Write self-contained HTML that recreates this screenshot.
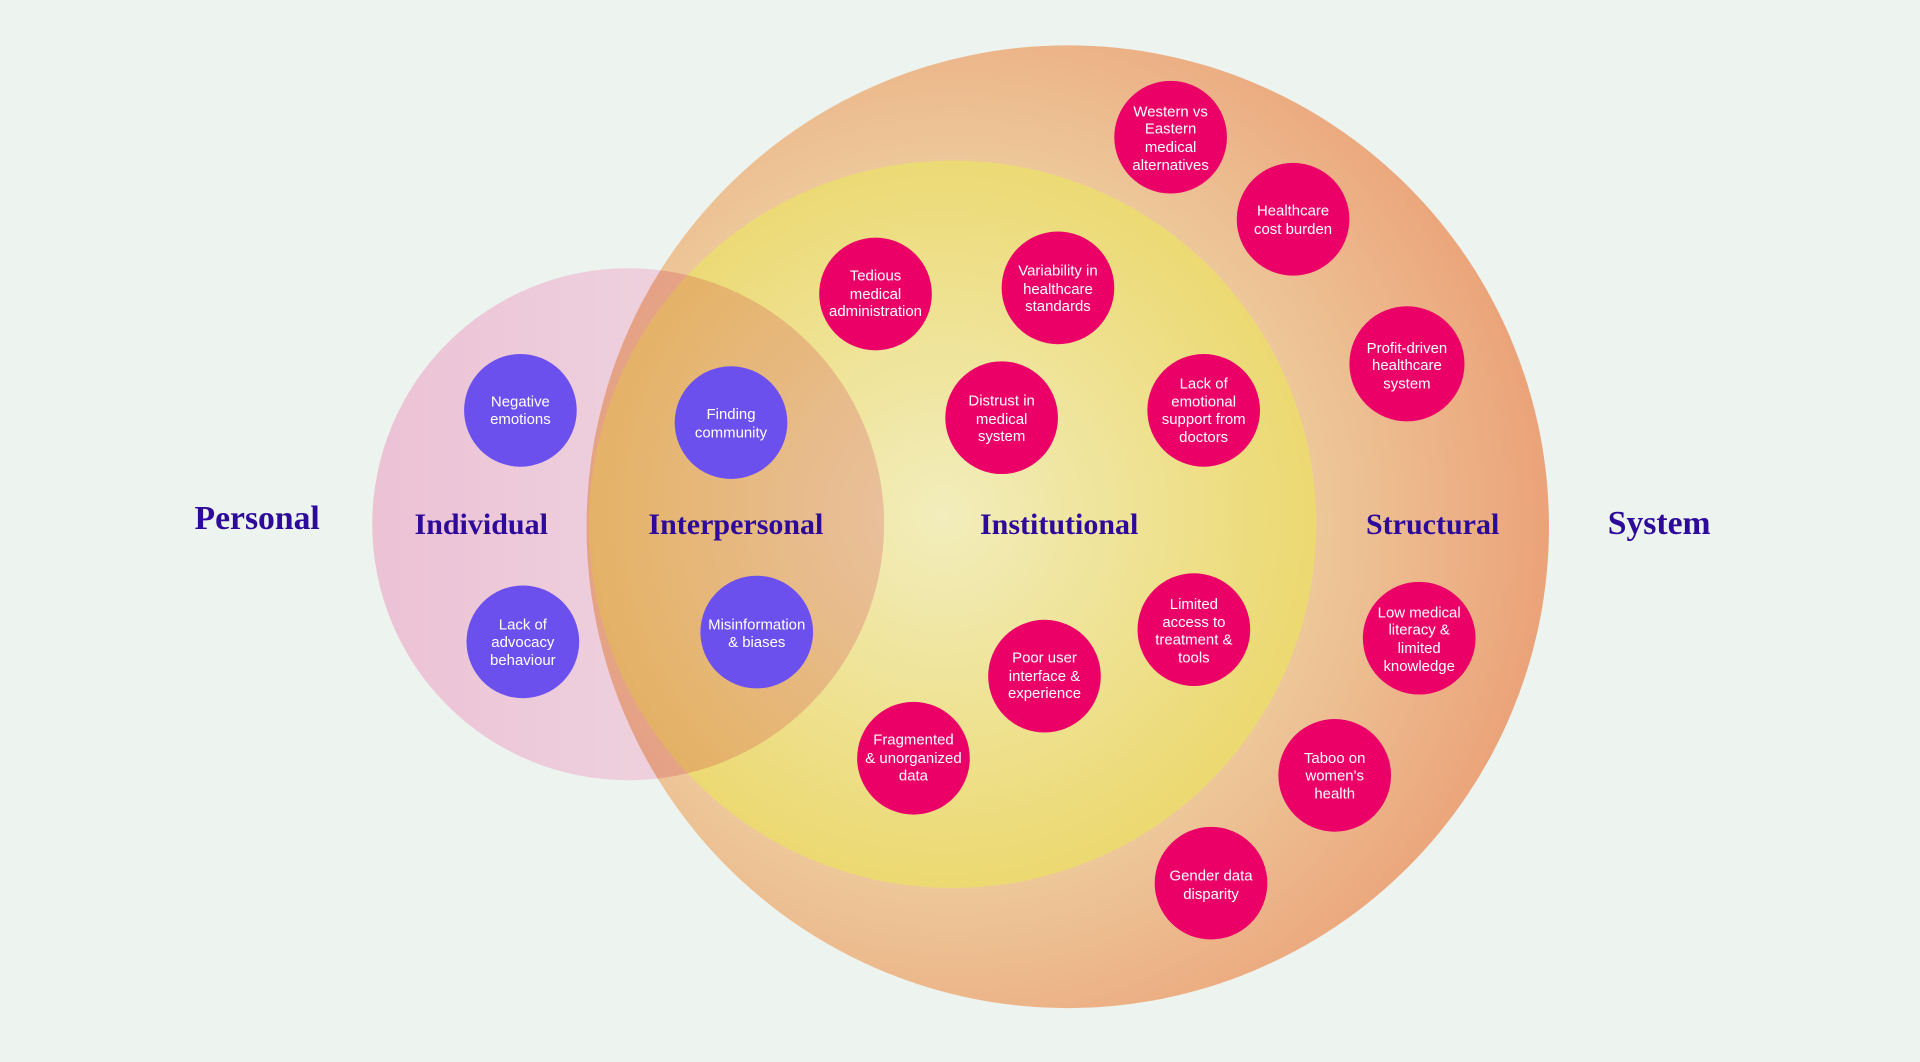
<!DOCTYPE html>
<html><head><meta charset="utf-8"><style>
html,body{margin:0;padding:0;background:#edf3ee;}
svg{display:block}
.b{font-family:"Liberation Sans",sans-serif;font-size:12.2px;fill:#fff;text-anchor:middle}
.t{font-family:"Liberation Serif",serif;font-weight:bold;font-size:24.5px;fill:#2e0a9a;text-anchor:middle}
.t2{font-size:27.5px}
</style></head><body>
<svg width="1920" height="1062" viewBox="0 0 1568 867" preserveAspectRatio="none">
<defs>
<radialGradient id="og" cx="778" cy="428" r="490" gradientUnits="userSpaceOnUse">
<stop offset="0.6" stop-color="#edc89a"/><stop offset="1" stop-color="#eba278"/></radialGradient>
<radialGradient id="yg" cx="770" cy="420" r="300" gradientUnits="userSpaceOnUse">
<stop offset="0" stop-color="#f2edbc"/><stop offset="1" stop-color="#ecd972"/></radialGradient>
<linearGradient id="pg" x1="0" x2="1" y1="0" y2="0">
<stop offset="0" stop-color="#ecc2d5"/><stop offset="1" stop-color="#efdce4"/></linearGradient>
<clipPath id="oc"><circle cx="872" cy="430" r="393"/></clipPath>
</defs>
<rect width="1568" height="867" fill="#edf3ee"/>
<circle cx="513" cy="428" r="209" fill="url(#pg)"/>
<circle cx="872" cy="430" r="393" fill="url(#og)"/>
<circle cx="778" cy="428" r="297" fill="url(#yg)"/>
<g clip-path="url(#oc)" style="mix-blend-mode:multiply" opacity="0.75"><circle cx="513" cy="428" r="209" fill="#f4c2d6"/></g>

<text class="t t2" x="210" y="432">Personal</text>
<text class="t" x="393" y="436">Individual</text>
<text class="t" x="601" y="436">Interpersonal</text>
<text class="t" x="865" y="436">Institutional</text>
<text class="t" x="1170" y="436">Structural</text>
<text class="t t2" x="1355" y="436">System</text>

<g fill="#6b50ee">
<circle cx="425" cy="335" r="46"/><circle cx="427" cy="524" r="46"/>
<circle cx="597" cy="345" r="46"/><circle cx="618" cy="516" r="46"/>
</g>
<g fill="#eb0068">
<circle cx="956" cy="112" r="46"/><circle cx="1056" cy="179" r="46"/><circle cx="1149" cy="297" r="47"/>
<circle cx="715" cy="240" r="46"/><circle cx="864" cy="235" r="46"/><circle cx="818" cy="341" r="46"/>
<circle cx="983" cy="335" r="46"/><circle cx="975" cy="514" r="46"/><circle cx="853" cy="552" r="46"/>
<circle cx="746" cy="619" r="46"/><circle cx="1159" cy="521" r="46"/><circle cx="1090" cy="633" r="46"/>
<circle cx="989" cy="721" r="46"/>
</g>
<g class="b">
<text x="425" y="332">Negative</text><text x="425" y="346">emotions</text>
<text x="427" y="514">Lack of</text><text x="427" y="528">advocacy</text><text x="427" y="543">behaviour</text>
<text x="597" y="342">Finding</text><text x="597" y="357">community</text>
<text x="618" y="514">Misinformation</text><text x="618" y="528">&amp; biases</text>
<text x="956" y="95">Western vs</text><text x="956" y="109">Eastern</text><text x="956" y="124">medical</text><text x="956" y="139">alternatives</text>
<text x="1056" y="176">Healthcare</text><text x="1056" y="191">cost burden</text>
<text x="1149" y="288">Profit-driven</text><text x="1149" y="302">healthcare</text><text x="1149" y="317">system</text>
<text x="715" y="229">Tedious</text><text x="715" y="244">medical</text><text x="715" y="258">administration</text>
<text x="864" y="225">Variability in</text><text x="864" y="240">healthcare</text><text x="864" y="254">standards</text>
<text x="818" y="331">Distrust in</text><text x="818" y="346">medical</text><text x="818" y="360">system</text>
<text x="983" y="317">Lack of</text><text x="983" y="332">emotional</text><text x="983" y="346">support from</text><text x="983" y="361">doctors</text>
<text x="975" y="497">Limited</text><text x="975" y="512">access to</text><text x="975" y="526">treatment &amp;</text><text x="975" y="541">tools</text>
<text x="853" y="541">Poor user</text><text x="853" y="556">interface &amp;</text><text x="853" y="570">experience</text>
<text x="746" y="608">Fragmented</text><text x="746" y="623">&amp; unorganized</text><text x="746" y="637">data</text>
<text x="1159" y="504">Low medical</text><text x="1159" y="518">literacy &amp;</text><text x="1159" y="533">limited</text><text x="1159" y="548">knowledge</text>
<text x="1090" y="623">Taboo on</text><text x="1090" y="637">women's</text><text x="1090" y="652">health</text>
<text x="989" y="719">Gender data</text><text x="989" y="734">disparity</text>
</g>
</svg>
</body></html>
